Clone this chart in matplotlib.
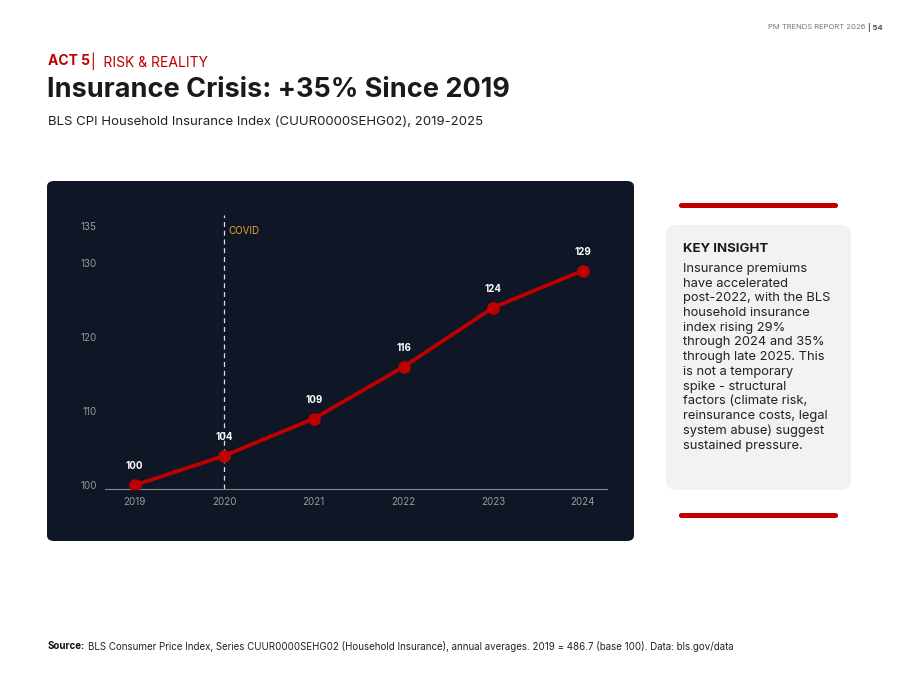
import matplotlib
matplotlib.use("Agg")
import matplotlib.pyplot as plt
from matplotlib.patches import FancyBboxPatch

years = [2019, 2020, 2021, 2022, 2023, 2024]
index_vals = [100, 104, 109, 116, 124, 129]
y_ticks = [100, 110, 120, 130, 135]
covid_year = 2020

W, H = 902, 700
plt.rcParams["font.family"] = ["Inter", "DejaVu Sans"]
fig = plt.figure(figsize=(W / 100, H / 100), dpi=100)
fig.patch.set_facecolor("white")


def fx(px):
    return px / W


def fy(py):
    return 1 - py / H


red = "#c00000"

# header
fig.text(fx(868), fy(27), "PM TRENDS REPORT 2026 ", ha="right", va="center", fontsize=5.5, color="#777777")
fig.text(fx(868), fy(27), "| 54", ha="left", va="center", fontsize=5.5, color="#555555", fontweight="bold")
fig.text(fx(48), fy(61), "ACT 5", ha="left", va="center", fontsize=10, color=red, fontweight="bold")
fig.text(fx(91), fy(61), "|  RISK & REALITY", ha="left", va="center", fontsize=10, color=red)
fig.text(fx(47), fy(90), "Insurance Crisis: +35% Since 2019", ha="left", va="center",
         fontsize=19.5, color="#1a1a1a", fontweight="bold")
fig.text(fx(48), fy(122), "BLS CPI Household Insurance Index (CUUR0000SEHG02), 2019-2025",
         ha="left", va="center", fontsize=9.5, color="#222222")

# dark chart panel
panel = FancyBboxPatch((fx(47), fy(541)), fx(634) - fx(47), fy(181) - fy(541),
                       boxstyle="round,pad=0,rounding_size=0.008", transform=fig.transFigure,
                       facecolor="#0f1726", edgecolor="none", zorder=-5)
fig.patches.append(panel)

ax = fig.add_axes([fx(105), fy(489), fx(607) - fx(105), fy(215) - fy(489)])
ax.set_zorder(5)
ax.set_facecolor("none")
ax.plot(years, index_vals, color=red, lw=2.7, marker="o", ms=8, zorder=3)
for x, v in zip(years, index_vals):
    ax.annotate(str(v), (x, v), xytext=(0, 10), textcoords="offset points",
                ha="center", va="bottom", color="white", fontsize=7, fontweight="bold")
ax.axvline(covid_year, color="#dddddd", lw=0.9, ls=(0, (4, 3)))
ax.text(covid_year + 0.05, 134.3, "COVID", color="#f0a030", fontsize=7, ha="left", va="center")
ax.set_xlim(2018.67, 2024.27)
ax.set_ylim(99.5, 136.5)
ax.set_xticks(years)
ax.set_yticks(y_ticks)
ax.tick_params(colors="#9a9a9a", labelsize=7, length=0, pad=6)
for s in ["top", "right", "left"]:
    ax.spines[s].set_visible(False)
ax.spines["bottom"].set_color("#888888")
ax.spines["bottom"].set_linewidth(0.8)

# key insight box
for y0 in (203, 513):
    bar = FancyBboxPatch((fx(679), fy(y0 + 5)), fx(838) - fx(679), fy(y0) - fy(y0 + 5),
                         boxstyle="round,pad=0,rounding_size=0.003", transform=fig.transFigure,
                         facecolor=red, edgecolor="none")
    fig.patches.append(bar)
box = FancyBboxPatch((fx(666), fy(490)), fx(851) - fx(666), fy(225) - fy(490),
                     boxstyle="round,pad=0,rounding_size=0.012", transform=fig.transFigure,
                     facecolor="#f2f2f2", edgecolor="none")
fig.patches.append(box)
fig.text(fx(683), fy(249), "KEY INSIGHT", ha="left", va="center", fontsize=9.5,
         color="#1a1a1a", fontweight="bold")
insight = ("Insurance premiums\nhave accelerated\npost-2022, with the BLS\nhousehold insurance\n"
           "index rising 29%\nthrough 2024 and 35%\nthrough late 2025. This\nis not a temporary\n"
           "spike - structural\nfactors (climate risk,\nreinsurance costs, legal\nsystem abuse) suggest\n"
           "sustained pressure.")
fig.text(fx(683), fy(263), insight, ha="left", va="top", fontsize=9.3, color="#222222",
         linespacing=1.3)

# source
fig.text(fx(48), fy(646), "Source:", ha="left", va="center", fontsize=7, fontweight="bold", color="#111111")
fig.text(fx(88), fy(646), "BLS Consumer Price Index, Series CUUR0000SEHG02 (Household Insurance), "
         "annual averages. 2019 = 486.7 (base 100). Data: bls.gov/data",
         ha="left", va="center", fontsize=7, color="#222222")

fig.savefig("out.png", dpi=100)
